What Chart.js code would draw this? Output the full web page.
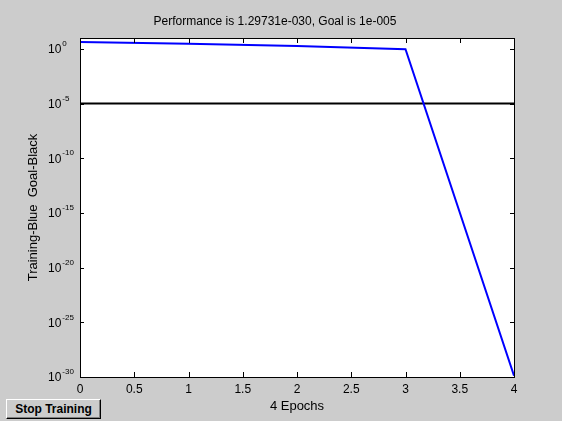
<!DOCTYPE html>
<html>
<head>
<meta charset="utf-8">
<script src="https://cdn.jsdelivr.net/npm/chart.js@4/dist/chart.umd.min.js"></script>
<style>
  html, body { margin: 0; padding: 0; background: #cccccc; overflow: hidden; }
  #wrap { position: relative; width: 562px; height: 421px; }
  #stop {
    position: absolute; left: 6px; top: 399px; width: 93px; height: 18px;
    background: #cccccc; box-sizing: content-box;
    border-top: 1px solid #ffffff; border-left: 1px solid #ffffff;
    border-right: 1px solid #000000; border-bottom: 1px solid #000000;
    box-shadow: inset -1px -1px 0 #808080;
    font: bold 12px "Liberation Sans", Arial, sans-serif; color: #000;
    text-align: center; line-height: 18px; white-space: nowrap;
  }
</style>
</head>
<body>
<div id="wrap">
  <canvas id="perf" width="562" height="421"></canvas>
  <div id="stop">Stop Training</div>
</div>
<script>
// Training record
const epochs = [0, 1, 2, 3, 4];
const performance = [4.3, 3.0, 1.9, 0.94, 1.29731e-30];
const goal = 1e-5;

// Axis ticks
const xTicks = [0, 0.5, 1, 1.5, 2, 2.5, 3, 3.5, 4];
const yTickExponents = [0, -5, -10, -15, -20, -25, -30];

const titleText = 'Performance is 1.29731e-030, Goal is 1e-005';
const xLabel = epochs[epochs.length - 1] + ' Epochs';
const yLabel = 'Training-Blue  Goal-Black';

const FONT = '"Liberation Sans", Arial, sans-serif';

const axesFrame = {
  id: 'axesFrame',
  beforeDraw(chart) {
    const { ctx, chartArea: a } = chart;
    ctx.save();
    ctx.fillStyle = '#cccccc';
    ctx.fillRect(0, 0, chart.width, chart.height);
    ctx.fillStyle = '#ffffff';
    ctx.fillRect(a.left, a.top, a.right - a.left, a.bottom - a.top);
    ctx.restore();
  },
  afterDraw(chart) {
    const { ctx, chartArea: a, scales } = chart;
    ctx.save();
    ctx.strokeStyle = '#000000';
    ctx.lineWidth = 1;
    ctx.beginPath();
    // inward x ticks, bottom and top
    xTicks.forEach(v => {
      const x = Math.round(scales.x.getPixelForValue(v)) + 0.5;
      ctx.moveTo(x, a.bottom); ctx.lineTo(x, a.bottom - 5);
      ctx.moveTo(x, a.top); ctx.lineTo(x, a.top + 5);
    });
    // inward y ticks, left and right
    yTickExponents.forEach(e => {
      const y = Math.round(scales.y.getPixelForValue(Math.pow(10, e))) + 0.5;
      ctx.moveTo(a.left, y); ctx.lineTo(a.left + 4, y);
      ctx.moveTo(a.right, y); ctx.lineTo(a.right - 4, y);
    });
    ctx.stroke();
    // axes box
    ctx.strokeRect(Math.round(a.left) + 0.5, Math.round(a.top) + 0.5,
                   Math.round(a.right - a.left), Math.round(a.bottom - a.top));

    // power-of-ten labels on the y axis
    ctx.fillStyle = '#000000';
    ctx.textAlign = 'left';
    ctx.textBaseline = 'middle';
    yTickExponents.forEach(e => {
      const y = scales.y.getPixelForValue(Math.pow(10, e));
      ctx.font = '12px ' + FONT;
      ctx.fillText('10', 48, y + 1);
      const w = ctx.measureText('10').width;
      ctx.font = '8px ' + FONT;
      ctx.fillText(String(e), 48 + w + 1, y - 5);
    });

    // title
    ctx.font = '12px ' + FONT;
    ctx.textAlign = 'center';
    ctx.fillText(titleText, (a.left + a.right) / 2 - 22, 22);
    ctx.restore();
  }
};

new Chart(document.getElementById('perf'), {
  type: 'line',
  data: {
    datasets: [
      {
        label: 'Training',
        data: epochs.map((e, i) => ({ x: e, y: performance[i] })),
        borderColor: '#0000ff',
        borderWidth: 2,
        pointRadius: 0,
        tension: 0,
        order: 0
      },
      {
        label: 'Goal',
        data: [{ x: epochs[0], y: goal }, { x: epochs[epochs.length - 1], y: goal }],
        borderColor: '#000000',
        borderWidth: 2,
        pointRadius: 0,
        tension: 0,
        order: 1
      }
    ]
  },
  options: {
    responsive: false,
    animation: false,
    layout: { padding: { left: 0, right: 48, top: 38, bottom: 0 } },
    plugins: { legend: { display: false }, tooltip: { enabled: false }, title: { display: false } },
    scales: {
      x: {
        type: 'linear',
        min: 0, max: 4,
        afterBuildTicks(scale) { scale.ticks = xTicks.map(v => ({ value: v })); },
        afterFit(scale) { scale.height = 44; },
        grid: { display: false, drawTicks: false },
        border: { display: false },
        ticks: {
          color: '#000000', padding: 5, maxRotation: 0, autoSkip: false,
          font: { family: FONT, size: 12, lineHeight: 1.2 },
          callback: v => String(v)
        },
        title: {
          display: true, text: xLabel, color: '#000000',
          font: { family: FONT, size: 13, lineHeight: 1.2 },
          padding: { top: 0, bottom: 7 }
        }
      },
      y: {
        type: 'logarithmic',
        min: 1e-30, max: 10,
        afterBuildTicks(scale) { scale.ticks = yTickExponents.map(e => ({ value: Math.pow(10, e) })); },
        afterFit(scale) { scale.width = 80; },
        grid: { display: false, drawTicks: false },
        border: { display: false },
        ticks: { display: false },
        title: {
          display: true, text: yLabel, color: '#000000',
          font: { family: FONT, size: 13, lineHeight: 1.2 },
          padding: { top: 26, bottom: 0 }
        }
      }
    }
  },
  plugins: [axesFrame]
});
</script>
</body>
</html>
